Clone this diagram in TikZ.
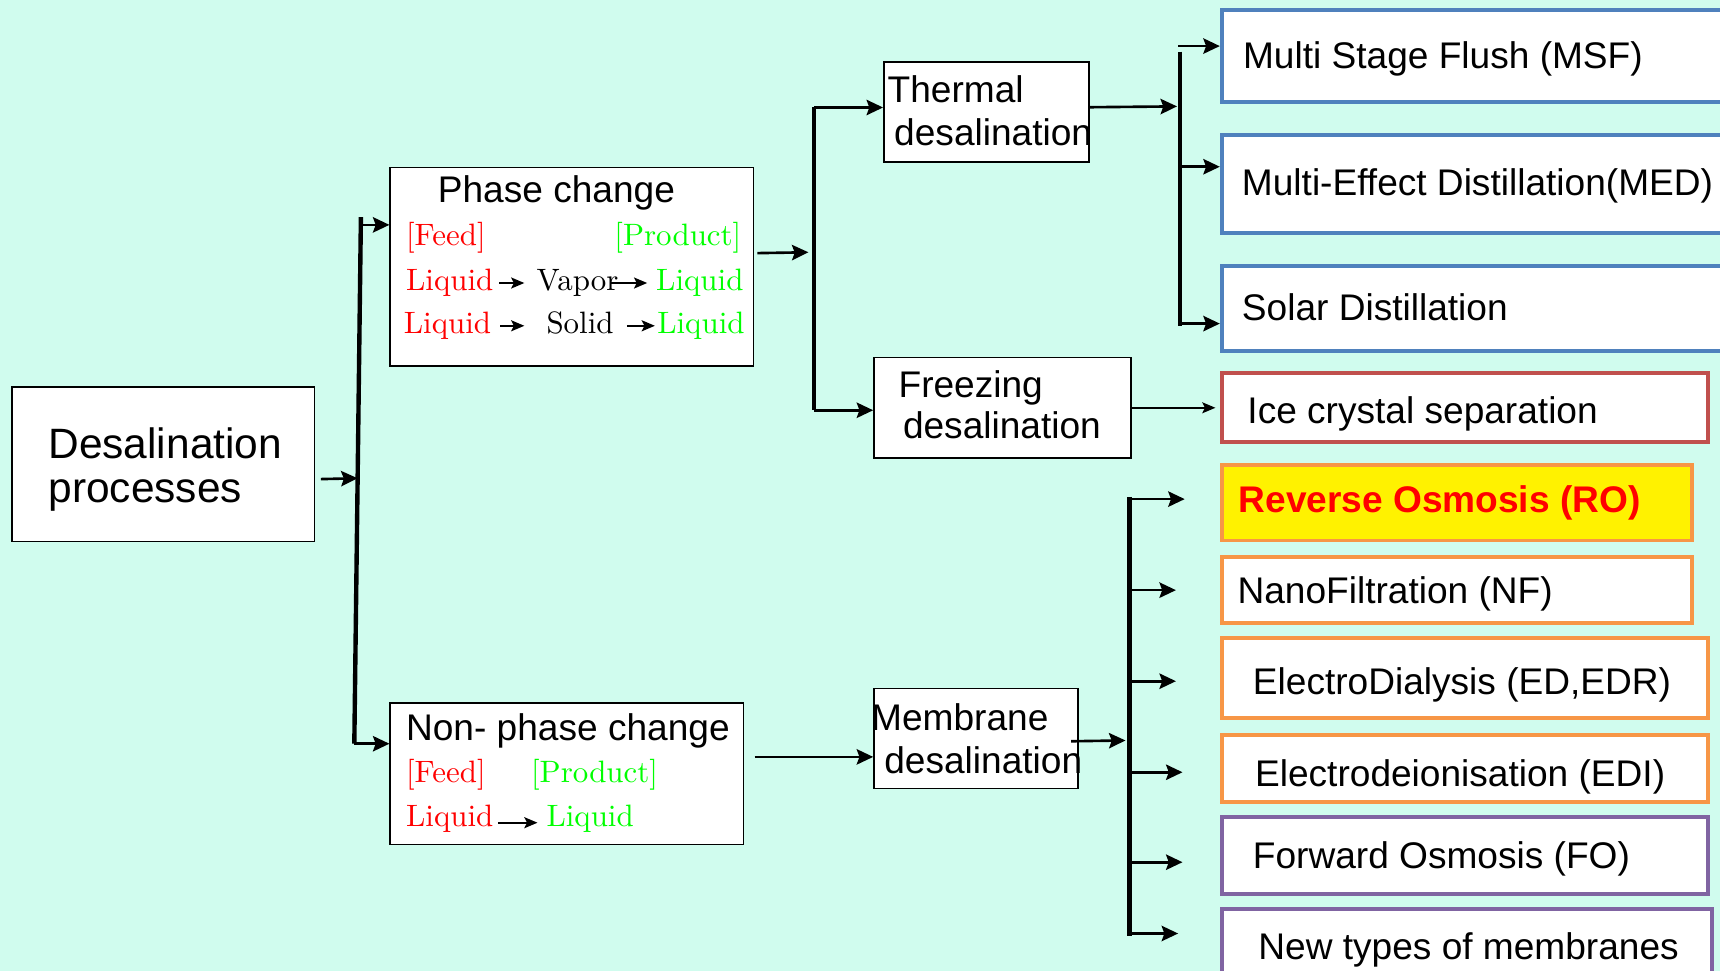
\documentclass[tikz,border=0pt]{standalone}
\usepackage{fontspec}
\setsansfont{Liberation Sans}
\newfontfamily\cmserif{lmroman10-regular}[Extension=.otf]
\usepackage{tikz}
\usetikzlibrary{arrows}
\usetikzlibrary{arrows.meta}
\usetikzlibrary{calc}
\usetikzlibrary{positioning}

\definecolor{bgmint}{RGB}{208,252,238}
\definecolor{feedred}{RGB}{255,0,0}
\definecolor{prodgreen}{RGB}{0,255,0}
\definecolor{thermblue}{RGB}{79,129,189}
\definecolor{icered}{RGB}{192,80,77}
\definecolor{memborange}{RGB}{247,150,70}
\definecolor{newpurple}{RGB}{128,100,162}

\begin{document}
\begin{tikzpicture}[x=1pt, y=-1pt, >={Stealth[length=15pt,width=14pt,inset=2.5pt]}, ->, line width=2.4pt]
            \tikzstyle{box}=[draw=black, line width=1.5pt, fill=white, anchor=north west, inner sep=0pt]
            \tikzstyle{tbox}=[box, line width=3.5pt]
            \tikzstyle{sans}=[anchor=base west, inner sep=0pt, font=\sffamily\fontsize{33.8}{40}\selectfont]
            \tikzstyle{serif}=[anchor=base west, inner sep=0pt, text height=19pt, text depth=5pt, font=\cmserif\fontsize{28.2}{34}\selectfont]
            \tikzstyle{trunk}=[-, line width=4pt]
            \tikzstyle{small}=[line width=2pt, >={Stealth[length=12pt,width=10pt,inset=2.5pt]}, ->]

            \fill[-, bgmint] (0,0) rectangle (1568,885);
            \useasboundingbox (0,0) rectangle (1568,885);

            % first level
            \node[box, minimum width=276pt, minimum height=141pt] (desal) at (10,352) {};
            \node[sans, font=\sffamily\fontsize{38.7}{40}\selectfont] (desal-a) at (43,418) {Desalination};
            \node[sans, font=\sffamily\fontsize{38.7}{40}\selectfont] (desal-b) at (43,458) {processes};

            \node[box, minimum width=331pt, minimum height=181pt] (phase) at (355,152) {};
            \node[sans] (phase-t) at (398,185) {Phase change};
            \node[serif, text=feedred] (pfeed) at (369,224) {[Feed]};
            \node[serif, text=prodgreen, anchor=base east] (pprod) at (677,224) {[Product]};
            \node[serif, text=feedred] (pl1) at (369,265) {Liquid};
            \node[serif] (pv) at (488,265) {Vapor};
            \node[serif, text=prodgreen] (pl2) at (597,265) {Liquid};
            \node[serif, text=feedred] (ps1) at (367,304) {Liquid};
            \node[serif] (pso) at (497,304) {Solid};
            \node[serif, text=prodgreen] (ps2) at (598,304) {Liquid};

            \node[box, minimum width=322pt, minimum height=129pt] (non) at (355,640) {};
            \node[sans] (non-t) at (369,675) {Non- phase change};
            \node[serif, text=feedred] (nfeed) at (369,713) {[Feed]};
            \node[serif, text=prodgreen] (nprod) at (483,713) {[Product]};
            \node[serif, text=feedred] (nl1) at (369,753) {Liquid};
            \node[serif, text=prodgreen] (nl2) at (497,753) {Liquid};

            % second level
            \node[box, minimum width=187pt, minimum height=91pt] (therm) at (805,56) {};
            \node[sans] (therm-a) at (808,93) {Thermal};
            \node[sans] (therm-b) at (814,133) {desalination};
            \node[box, minimum width=234pt, minimum height=92pt] (freeze) at (796,325) {};
            \node[sans] (freeze-a) at (818,362) {Freezing};
            \node[sans] (freeze-b) at (822,400) {desalination};
            \node[box, minimum width=186pt, minimum height=91pt] (memb) at (796,627) {};
            \node[sans] (memb-a) at (793,666) {Membrane};
            \node[sans] (memb-b) at (805,705) {desalination};

            % processes
            \node[tbox, draw=thermblue, minimum width=480pt, minimum height=84pt] (msf) at (1112,7) {};
            \node[sans] (msf-t) at (1132,62) {Multi Stage Flush (MSF)};
            \node[tbox, draw=thermblue, minimum width=480pt, minimum height=90pt] (med) at (1112,121) {};
            \node[sans] (med-t) at (1131,178) {Multi-Effect Distillation(MED)};
            \node[tbox, draw=thermblue, minimum width=480pt, minimum height=77pt] (sol) at (1112,241) {};
            \node[sans] (sol-t) at (1131,292) {Solar Distillation};
            \node[tbox, draw=icered, minimum width=443pt, minimum height=63pt] (ice) at (1112,338) {};
            \node[sans] (ice-t) at (1136,386) {Ice crystal separation};
            \node[tbox, draw=memborange, fill=yellow, minimum width=429pt, minimum height=69pt] (ro) at (1112,422) {};
            \node[sans, text=red, font=\sffamily\bfseries\fontsize{33.8}{40}\selectfont] (ro-t) at (1128,467) {Reverse Osmosis (RO)};
            \node[tbox, draw=memborange, minimum width=429pt, minimum height=60pt] (nf) at (1112,506) {};
            \node[sans] (nf-t) at (1127,550) {NanoFiltration (NF)};
            \node[tbox, draw=memborange, minimum width=443pt, minimum height=73pt] (ed) at (1112,580) {};
            \node[sans] (ed-t) at (1141,633) {ElectroDialysis (ED,EDR)};
            \node[tbox, draw=memborange, minimum width=443pt, minimum height=61pt] (edi) at (1112,668) {};
            \node[sans] (edi-t) at (1143,717) {Electrodeionisation (EDI)};
            \node[tbox, draw=newpurple, minimum width=443pt, minimum height=70pt] (fo) at (1112,743) {};
            \node[sans] (fo-t) at (1141,792) {Forward Osmosis (FO)};
            \node[tbox, draw=newpurple, minimum width=447pt, minimum height=80pt] (newm) at (1112,827) {};
            \node[sans] (newm-t) at (1146,875) {New types of membranes};

            % arrows inside the boxes
            \draw[small] ([xshift=4pt]pl1.east) -- ([xshift=-10pt]pv.west);
            \draw[small] ([xshift=-8pt]pv.east) -- ([xshift=-7pt]pl2.west);
            \draw[small] ([xshift=7pt]ps1.east) -- ([xshift=-19pt]pso.west);
            \draw[small] ([xshift=11pt]pso.east) -- ([xshift=-1pt]ps2.west);
            \draw[small] ([xshift=3pt, yshift=-4pt]nl1.east) -- ([xshift=-7pt, yshift=-4pt]nl2.west);

            % trunks and branches
            \coordinate (t1a) at (329,198);
            \coordinate (t1b) at (323,678);
            \coordinate (j1) at (326,436);
            \coordinate (b1) at (329,205);
            \draw[trunk] (t1a) -- (t1b);
            \draw ($(desal.east)+(5,13.5)$) -- (j1);
            \draw (b1) -- (b1 -| phase.west);
            \draw (t1b) -- (t1b -| non.west);

            \coordinate (t2a) at (742,98);
            \coordinate (t2b) at (742,374);
            \coordinate (j2) at (737,230);
            \draw[trunk] (t2a) -- (t2b);
            \draw ($(phase.east)+(3,-12.5)$) -- (j2);
            \draw (t2a) -- (t2a -| therm.west);
            \draw (t2b) -- (t2b -| freeze.west);

            \coordinate (t3a) at (1076,47);
            \coordinate (t3b) at (1076,297);
            \coordinate (j3) at (1073,97);
            \coordinate (b3) at (1074,42);
            \coordinate (b4) at (1076,152);
            \coordinate (b5) at (1076,295);
            \draw[trunk, line width=3.5pt] (t3a) -- (t3b);
            \draw ($(therm.east)+(0,-4.5)$) -- (j3);
            \draw (b3) -- (b3 -| msf.west);
            \draw (b4) -- (b4 -| med.west);
            \draw (b5) -- (b5 -| sol.west);

            \draw[small, line width=1.3pt, shorten >=4pt] (freeze.east) -- (freeze.east -| ice.west);

            \coordinate (nm) at (688,690);
            \draw (nm) -- (nm -| memb.west);

            \coordinate (t4a) at (1030,453);
            \coordinate (t4b) at (1030,853);
            \coordinate (j4) at (1026,675);
            \draw[trunk, line width=4.5pt] (t4a) -- (t4b);
            \draw ($(memb.east)+(-7,2.5)$) -- (j4);
            \foreach \y/\x [count=\i] in {455/1080, 538/1072, 621/1072, 704/1078, 786/1078, 851/1074} {
                \coordinate (m\i) at (1030,\y);
                \coordinate (e\i) at (\x,\y);
                \draw (m\i) -- (e\i);
            }
        \end{tikzpicture}
\end{document}
